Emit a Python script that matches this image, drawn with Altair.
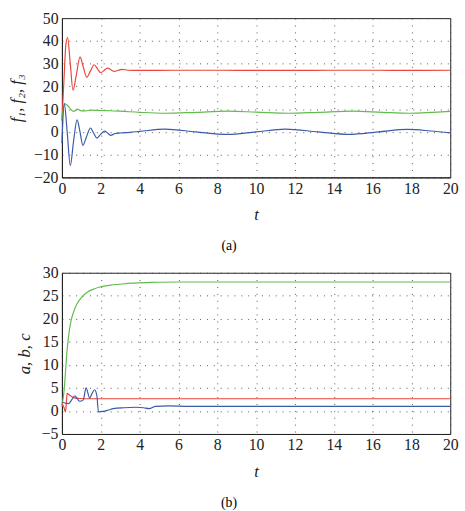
import altair as alt
import pandas as pd

# ---------- panel (a) ----------
t_red_a = [0, 0.1, 0.2, 0.29, 0.43, 0.57, 0.75, 0.93, 1.1, 1.28, 1.47, 1.66, 1.83, 2.0, 2.17,
           2.35, 2.52, 2.7, 2.9, 3.1, 3.4, 4, 6, 8, 10, 12, 14, 16, 18, 20]
red_a = [5, 22, 38, 41.5, 30, 18.3, 25.5, 33, 28.5, 24, 26.8, 29.5, 27.7, 26, 27,
         28, 27.3, 26.6, 27.1, 27.5, 27.1, 27.0, 27.1, 27.1, 27.0, 27.0, 27.1, 27.1, 27.0, 27.1]

t_green_a = [0, 0.08, 0.15, 0.3, 0.45, 0.6, 0.8, 1.0, 1.2, 1.5, 2, 2.5, 3, 4, 5.3, 6.9,
             8.5, 10, 11.7, 13.2, 15.0, 16.5, 17.9, 20]
green_a = [5, 10.5, 12.3, 11.5, 10, 9.0, 10.0, 9.2, 9.2, 9.6, 9.4, 9.3, 9.1, 8.6, 8.2, 8.6,
           9.1, 8.7, 8.2, 8.6, 9.1, 8.6, 8.2, 9.0]

t_blue_a = [0, 0.12, 0.27, 0.43, 0.6, 0.78, 0.93, 1.08, 1.27, 1.47, 1.63, 1.8, 2.0, 2.2, 2.35,
            2.5, 2.75, 3.0, 3.5, 4.0, 5.3, 6.9, 8.5, 10, 11.5, 13.2, 14.8, 16.3, 17.8, 19, 20]
blue_a = [-5, 12.5, 0, -14.8, -4, 5.3, 0, -5.9, -2, 1.7, -0.5, -2.7, -1, 0.3, -0.5,
          -1.5, -0.7, -0.5, -0.2, 0.2, 1.2, 0, -1.1, 0, 1.2, 0, -1.1, 0, 1.1, 0.4, -0.4]

# ---------- panel (b) ----------
t_green_b = [0, 0.1, 0.27, 0.44, 0.6, 0.77, 1.0, 1.28, 1.6, 1.95, 2.5, 2.96, 3.6, 4.6, 6, 8, 20]
green_b = [1.0, 4.0, 13.4, 19.0, 21.5, 23.2, 24.6, 25.7, 26.4, 26.9, 27.3, 27.5, 27.75, 27.9, 28.0, 28.0, 28.0]

t_red_b = [0, 0.1, 0.18, 0.24, 0.27, 0.4, 0.6, 0.9, 1.5, 20]
red_b = [1.6, 0.8, -0.2, 2.5, 3.8, 3.4, 2.9, 2.7, 2.65, 2.65]

t_blue_b = [0, 0.35, 0.5, 0.67, 0.8, 0.92, 1.1, 1.24, 1.43, 1.55, 1.68, 1.8, 1.88, 2.13, 2.4,
            2.64, 3.2, 3.81, 4.2, 4.49, 4.82, 5.5, 6.5, 20]
blue_b = [1.9, 1.6, 2.4, 3.3, 2.6, 2.1, 2.4, 5.0, 2.8, 3.8, 4.6, 3.3, -0.2, -0.1, 0.2,
          0.5, 0.7, 0.8, 0.7, 0.5, 1.0, 1.1, 1.0, 1.0]

x_ticks = [0, 2, 4, 6, 8, 10, 12, 14, 16, 18, 20]
y_ticks_a = [-20, -10, 0, 10, 20, 30, 40, 50]
y_ticks_b = [-5, 0, 5, 10, 15, 20, 25, 30]

series_names = ["red", "green", "blue"]
series_colors = ["#e8463c", "#62bb4e", "#3a5aaa"]

FONT = "Liberation Serif"


def frame(items):
    rows = []
    for name, ts, vs in items:
        for i, (t, v) in enumerate(zip(ts, vs)):
            rows.append({"series": name, "t": t, "v": v, "o": i})
    return pd.DataFrame(rows)


def panel(df, ydom, yticks, ytitle, caption, w, h):
    base = alt.Chart(df).mark_line(strokeWidth=1.2, interpolate="monotone").encode(
        x=alt.X("t:Q", scale=alt.Scale(domain=[0, 20], nice=False),
                axis=alt.Axis(values=x_ticks, title="t", titleFontStyle="italic",
                              titleFontWeight="normal", titleFontSize=17,
                              titlePadding=11, labelPadding=3)),
        y=alt.Y("v:Q", scale=alt.Scale(domain=ydom, nice=False),
                axis=alt.Axis(values=yticks, title=ytitle, titleFontStyle="italic",
                              titleFontWeight="normal", titleFontSize=17,
                              titlePadding=8, labelPadding=4)),
        color=alt.Color("series:N", scale=alt.Scale(domain=series_names, range=series_colors),
                        legend=None),
        detail="series:N",
        order="o:Q",
    )
    cap = alt.Chart(pd.DataFrame({"cap": [caption]})).mark_text(
        font=FONT, fontSize=14, baseline="middle", align="center"
    ).encode(text="cap:N", x=alt.value(170), y=alt.value(h + 70))
    return alt.layer(base, cap).properties(width=w, height=h)


top = panel(frame([("red", t_red_a, red_a), ("green", t_green_a, green_a), ("blue", t_blue_a, blue_a)]),
            [-20, 50], y_ticks_a, "f₁, f₂, f₃", "(a)", 395, 162)
bottom = panel(frame([("green", t_green_b, green_b), ("red", t_red_b, red_b), ("blue", t_blue_b, blue_b)]),
               [-5, 30], y_ticks_b, "a, b, c", "(b)", 395, 164)

chart = alt.vconcat(top, bottom, spacing=10).properties(
    padding={"left": 7, "top": 5, "right": 6, "bottom": 2}
).configure(font=FONT).configure_view(
    stroke="#222", strokeWidth=1
).configure_axis(
    domainColor="#222", labelColor="#222", titleColor="#222",
    labelFontSize=16, labelFont=FONT, titleFont=FONT,
    ticks=False, grid=True, gridColor="#444", gridDash=[1, 6], gridWidth=1, gridOpacity=0.9,
    labelFlush=False
)

chart.save("out.html", embed_options={"renderer": "svg", "actions": False})
